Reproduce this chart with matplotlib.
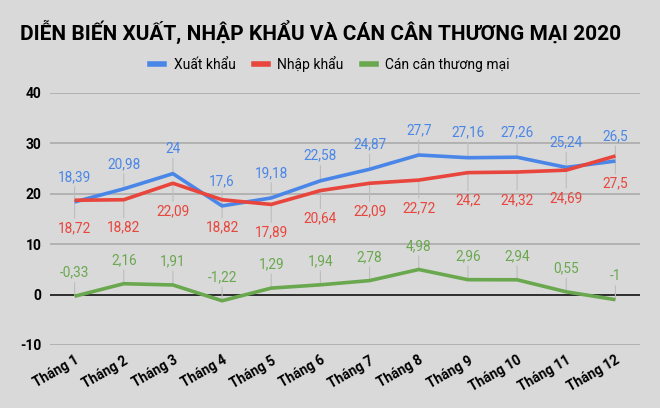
import matplotlib
matplotlib.use("Agg")
import matplotlib.pyplot as plt
from matplotlib.lines import Line2D
from matplotlib.transforms import ScaledTranslation

months = ["Tháng %d" % i for i in range(1, 13)]
xuat_khau = [18.39, 20.98, 24, 17.6, 19.18, 22.58, 24.87, 27.7, 27.16, 27.26, 25.24, 26.5]
nhap_khau = [18.72, 18.82, 22.09, 18.82, 17.89, 20.64, 22.09, 22.72, 24.2, 24.32, 24.69, 27.5]
can_can = [-0.33, 2.16, 1.91, -1.22, 1.29, 1.94, 2.78, 4.98, 2.96, 2.94, 0.55, -1]
yticks = [-10, 0, 10, 20, 30, 40]

bg = "#d9d9d9"
blue, red, green = "#4a86e8", "#e8453c", "#6aa84f"
lbl_font = "Roboto"
bold_font = ["Liberation Sans Narrow", "Roboto", "DejaVu Sans"]

fig = plt.figure(figsize=(6.6, 4.08), dpi=100, facecolor=bg)
ax = fig.add_axes([50/660, 1-345/408, 590/660, 252/408], facecolor=bg)

x = list(range(len(months)))
series = [(xuat_khau, blue, "Xuất khẩu", 18),
          (nhap_khau, red, "Nhập khẩu", -20),
          (can_can, green, "Cán cân thương mại", 17)]

for vals, col, name, off in series:
    ax.plot(x, vals, color=col, lw=2.6, zorder=4, solid_capstyle="butt")
    for xi, v in zip(x, vals):
        txt = ("%g" % v).replace(".", ",")
        ax.annotate(txt, (xi, v), xytext=(0, off), textcoords="offset points",
                    ha="center", va="center", color=col, fontsize=9.8,
                    family=lbl_font, zorder=3,
                    arrowprops=dict(arrowstyle="-", color="#bdbdbd", lw=0.8,
                                    shrinkA=0, shrinkB=0))

ax.set_xlim(-0.5, len(months) - 0.5)
ax.set_ylim(-10, 40)
ax.set_yticks(yticks)
ax.set_yticklabels([str(t) for t in yticks], fontweight="bold",
                   family=bold_font, fontsize=10)
ax.set_xticks(x)
ax.set_xticklabels(months, rotation=30, ha="right", rotation_mode="anchor",
                   fontweight="bold", family=bold_font, fontsize=9.8)
shift = ScaledTranslation(0.09, -0.06, fig.dpi_scale_trans)
for lab in ax.get_xticklabels():
    lab.set_transform(lab.get_transform() + shift)
ax.tick_params(length=0, pad=6)
for s in ax.spines.values():
    s.set_visible(False)
for t in yticks:
    ax.axhline(t, color="#111111" if t == 0 else "#ababab",
               lw=1.2, zorder=1)

handles = [Line2D([], [], color=c, lw=4) for _, c, _, _ in series]
fig.legend(handles, [n for _, _, n, _ in series], loc="center",
           bbox_to_anchor=(0.5, 1-64/408), ncol=3, frameon=False,
           handlelength=1.0, columnspacing=1.3, handletextpad=0.7,
           prop=dict(family=lbl_font, size=10))

fig.text(20/660, 1-32/408, "DIỄN BIẾN XUẤT, NHẬP KHẨU VÀ CÁN CÂN THƯƠNG MẠI 2020",
         ha="left", va="center", fontsize=15, fontweight="bold",
         family=bold_font)

fig.savefig("out.png", dpi=100, facecolor=bg)
